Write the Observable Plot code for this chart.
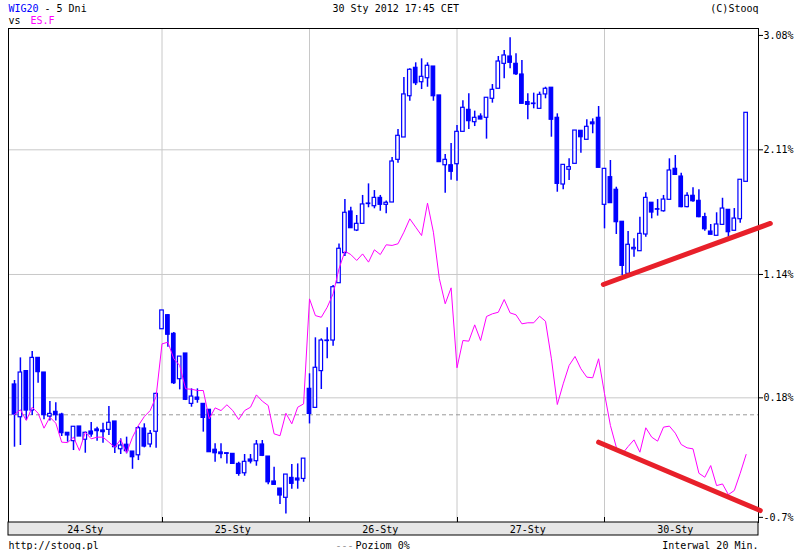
<!DOCTYPE html>
<html><head><meta charset="utf-8">
<script src="https://cdn.jsdelivr.net/npm/d3@7"></script>
<script src="https://cdn.jsdelivr.net/npm/@observablehq/plot@0.6"></script>
<style>body{margin:0;background:#fff;} #chart svg{display:block}</style>
</head><body><div id="chart"></div>
<script>
// WIG20, 20-minute candles, % change (index 0..124, 25 per session)
const openV = [0.284,0.029,0.388,0.081,0.491,0.377,0.034,0.071,0.050,-0.092,
-0.157,-0.043,-0.146,-0.082,-0.066,-0.074,-0.069,-0.004,-0.220,-0.185,
-0.238,-0.267,-0.059,-0.183,-0.084,0.714,0.823,0.678,0.325,0.525,
0.133,0.182,0.133,0.087,-0.224,-0.245,-0.251,-0.256,-0.334,-0.407,
-0.300,-0.313,-0.183,-0.277,-0.471,-0.526,-0.598,-0.443,-0.448,-0.451,
0.250,0.102,0.388,0.626,0.626,1.072,1.306,1.630,1.482,1.534,
1.692,1.671,1.736,1.682,1.700,2.032,2.206,2.527,2.748,2.636,
2.667,2.758,2.533,1.990,1.990,1.998,2.250,2.421,2.325,2.369,
2.359,2.507,2.585,2.779,2.836,2.779,2.696,2.481,2.470,2.429,
2.541,2.593,2.359,1.840,1.955,2.001,2.258,2.188,2.323,2.359,
1.682,1.897,1.799,1.550,1.145,1.336,1.321,1.451,1.698,1.648,
1.632,1.721,1.962,1.902,1.664,1.752,1.713,1.586,1.474,1.441,
1.526,1.643,1.480,1.570,1.861];
const highV = [0.315,0.491,0.393,0.540,0.491,0.377,0.151,0.141,0.060,-0.092,
-0.045,-0.043,-0.087,-0.012,-0.048,-0.017,0.112,-0.004,-0.139,-0.126,
-0.238,-0.043,-0.022,-0.074,0.216,0.860,0.829,0.688,0.501,0.525,
0.250,0.250,0.133,0.087,-0.178,-0.178,-0.251,-0.256,-0.321,-0.261,
-0.261,-0.152,-0.152,-0.277,-0.360,-0.526,-0.417,-0.339,-0.334,-0.293,
0.367,0.647,0.639,0.725,1.054,1.378,1.723,1.664,1.599,1.755,
1.845,1.793,1.755,1.711,2.050,2.268,2.673,2.741,2.787,2.818,
2.787,2.758,2.533,2.074,2.159,2.299,2.491,2.546,2.411,2.390,
2.515,2.618,2.836,2.883,2.982,2.857,2.805,2.546,2.551,2.559,
2.597,2.593,2.390,1.993,2.040,2.260,2.258,2.344,2.351,2.447,
1.962,2.027,1.819,1.550,1.474,1.417,1.586,1.775,1.698,1.723,
1.755,2.040,2.066,1.928,1.775,1.814,1.799,1.617,1.529,1.620,
1.733,1.643,1.653,1.877,2.398];
const lowV = [-0.204,-0.191,0.004,0.042,0.294,0.009,-0.001,-0.001,-0.121,-0.165,
-0.230,-0.121,-0.251,-0.126,-0.157,-0.173,-0.113,-0.253,-0.261,-0.256,
-0.376,-0.308,-0.209,-0.209,-0.212,0.714,0.574,0.284,0.242,0.159,
0.107,0.138,-0.087,-0.243,-0.321,-0.293,-0.334,-0.334,-0.430,-0.430,
-0.334,-0.352,-0.277,-0.497,-0.497,-0.650,-0.723,-0.531,-0.531,-0.477,
-0.023,0.102,0.245,0.484,0.582,1.072,1.280,1.500,1.474,1.534,
1.659,1.651,1.632,1.612,1.700,2.006,2.206,2.488,2.610,2.579,
2.597,2.488,2.014,1.772,1.874,1.866,2.250,2.268,2.291,2.344,
2.193,2.473,2.585,2.663,2.741,2.688,2.468,2.344,2.429,2.429,
2.507,2.208,1.780,1.799,1.871,2.001,2.084,2.188,2.235,1.970,
1.495,1.695,1.451,1.132,1.145,1.274,1.321,1.430,1.573,1.594,
1.625,1.721,1.915,1.659,1.659,1.702,1.581,1.477,1.449,1.441,
1.526,1.430,1.480,1.539,1.861];
const closeV = [0.050,0.377,0.081,0.491,0.380,0.045,0.055,0.045,-0.095,-0.113,
-0.045,-0.121,-0.092,-0.105,-0.079,-0.087,-0.014,-0.204,-0.191,-0.235,
-0.282,-0.056,-0.199,-0.100,0.211,0.860,0.671,0.294,0.501,0.165,
0.190,0.165,0.024,-0.243,-0.251,-0.258,-0.256,-0.334,-0.412,-0.318,
-0.316,-0.183,-0.271,-0.477,-0.497,-0.580,-0.417,-0.489,-0.463,-0.293,
0.055,0.414,0.626,0.622,1.041,1.340,1.620,1.500,1.534,1.685,
1.688,1.736,1.682,1.698,2.019,2.219,2.541,2.733,2.628,2.678,
2.764,2.527,2.014,2.032,1.939,2.250,2.437,2.333,2.359,2.346,
2.515,2.577,2.797,2.844,2.787,2.698,2.468,2.460,2.466,2.538,
2.585,2.344,1.845,1.993,1.975,2.260,2.208,2.289,2.309,1.970,
1.962,1.695,1.547,1.207,1.371,1.347,1.456,1.736,1.622,1.644,
1.723,1.949,1.915,1.664,1.752,1.710,1.586,1.492,1.449,1.529,
1.653,1.469,1.575,1.877,2.398];
// ES.F comparison line, % change
const esfV = [0.050,0.087,0.004,0.107,0.060,-0.056,0.029,-0.017,-0.165,-0.168,
-0.126,-0.230,-0.087,-0.139,-0.126,-0.126,-0.165,-0.204,-0.144,-0.248,
-0.126,-0.035,0.034,0.081,0.190,0.600,0.613,0.484,0.432,0.250,
0.247,0.237,0.237,0.017,0.102,0.081,0.126,0.081,0.011,0.081,
0.107,0.203,0.154,0.120,-0.100,-0.115,0.060,-0.022,0.107,0.133,
0.950,0.820,0.807,0.885,0.989,1.184,1.321,1.295,1.249,1.300,
1.236,1.332,1.295,1.371,1.366,1.379,1.469,1.573,1.508,1.443,
1.695,1.469,1.109,0.912,1.036,0.414,0.626,0.621,0.748,0.626,
0.813,0.834,0.846,0.945,0.841,0.826,0.756,0.764,0.764,0.815,
0.776,0.484,0.128,0.289,0.432,0.502,0.406,0.341,0.336,0.484,
0.213,-0.035,-0.204,-0.256,-0.199,-0.147,-0.243,-0.053,-0.126,-0.157,
-0.048,-0.040,-0.095,-0.183,-0.209,-0.217,-0.407,-0.438,-0.347,-0.503,
-0.490,-0.573,-0.541,-0.407,-0.261];
// sessions
const dayStarts = [25, 50, 75, 100];
const dayCenters = [12, 37, 62, 87, 112];
const dayLabels = ["24-Sty", "25-Sty", "26-Sty", "27-Sty", "30-Sty"];
// y axis
const yTickVals = [3.0, 2.11, 1.14, 0.18, -0.75];
const yTickLabels = ["3.08%", "2.11%", "1.14%", "0.18%", "-0.7%"];
const yGridVals = [2.11, 1.14, 0.18];
const zeroLevel = 0.048;
// hand-drawn trend lines (index, %)
const trendUpperI = [99.8, 128.1], trendUpperV = [1.062, 1.537];
const trendLowerI = [99.0, 126.4], trendLowerV = [-0.165, -0.697];

const candles = openV.map((o, i) => ({i, open: o, high: highV[i], low: lowV[i], close: closeV[i]}));
const ups = candles.filter(d => d.close >= d.open);
const downs = candles.filter(d => d.close < d.open);
const esf = esfV.map((v, i) => ({i, v}));
const trendU = trendUpperI.map((i, k) => ({i, v: trendUpperV[k]}));
const trendL = trendLowerI.map((i, k) => ({i, v: trendLowerV[k]}));
const yLab = new Map(yTickVals.map((v, k) => [v, yTickLabels[k]]));
const dLab = new Map(dayCenters.map((v, k) => [v, dayLabels[k]]));

const BLUE = "#0000ff", MAG = "#ff00ff", RED = "#e8202a";

const strip = (index, scales, values, dims) => {
  const g = d3.create("svg:g");
  const x0 = dims.marginLeft, x1 = dims.width - dims.marginRight, yb = dims.height - dims.marginBottom;
  g.append("rect").attr("x", x0).attr("y", yb).attr("width", x1 - x0).attr("height", 13)
    .attr("fill", "#e6e6e6").attr("stroke", "#000");
  for (const s of dayStarts) {
    const px = Math.round(scales.x(s)) + 0.5;
    g.append("line").attr("x1", px).attr("x2", px).attr("y1", yb - 5).attr("y2", yb).attr("stroke", "#000");
  }
  return g.node();
};

const T = {lineAnchor: "middle", fontSize: 10};

const chart = Plot.plot({
  width: 800, height: 550,
  marginLeft: 8, marginRight: 42, marginTop: 28, marginBottom: 28,
  style: {fontFamily: "'DejaVu Sans Mono', monospace", fontSize: "10px", background: "#fff", color: "#000"},
  x: {domain: [-1.017, 126.1], axis: null, label: null},
  y: {domain: [-0.790, 3.054], axis: null, label: null},
  marks: [
    Plot.gridX(dayStarts, {stroke: "#c8c8c8", strokeOpacity: 1}),
    Plot.gridY(yGridVals, {stroke: "#c8c8c8", strokeOpacity: 1}),
    Plot.ruleY([zeroLevel], {stroke: "#999", strokeDasharray: "4,3"}),
    Plot.ruleX(candles, {x: "i", y1: "low", y2: "high", stroke: BLUE, strokeWidth: 1.5}),
    Plot.rect(ups, {x1: d => d.i - 0.3, x2: d => d.i + 0.3, y1: "open", y2: "close", fill: "#fff", stroke: BLUE, strokeWidth: 1.2}),
    Plot.rect(downs, {x1: d => d.i - 0.3, x2: d => d.i + 0.3, y1: "open", y2: "close", fill: BLUE, stroke: BLUE, strokeWidth: 1.2}),
    Plot.line(esf, {x: "i", y: "v", stroke: MAG, strokeWidth: 1}),
    Plot.frame({stroke: "#000"}),
    Plot.axisY(yTickVals, {anchor: "right", label: null, tickSize: 4, tickPadding: 1, tickFormat: d => yLab.get(d), fill: "#000", stroke: "#000"}),
    strip,
    Plot.axisX(dayCenters, {anchor: "bottom", label: null, tickSize: 0, tickPadding: 3, tickFormat: d => dLab.get(d), fill: "#000"}),
    Plot.line(trendU, {x: "i", y: "v", stroke: RED, strokeWidth: 5, strokeLinecap: "round"}),
    Plot.line(trendL, {x: "i", y: "v", stroke: RED, strokeWidth: 5, strokeLinecap: "round"}),
    // header
    Plot.text(["WIG20"], {...T, frameAnchor: "top-left", dy: -20, textAnchor: "start", fill: BLUE}),
    Plot.text([" - 5 Dni"], {...T, frameAnchor: "top-left", dx: 30, dy: -20, textAnchor: "start", fill: "#000"}),
    Plot.text(["vs"], {...T, frameAnchor: "top-left", dy: -8, textAnchor: "start", fill: "#000"}),
    Plot.text(["ES.F"], {...T, frameAnchor: "top-left", dx: 22, dy: -8, textAnchor: "start", fill: MAG}),
    Plot.text(["30 Sty 2012 17:45 CET"], {...T, frameAnchor: "top-left", dx: 324, dy: -20, textAnchor: "start", fill: "#000"}),
    Plot.text(["(C)Stooq"], {...T, frameAnchor: "top-right", dy: -20, textAnchor: "end", fill: "#000"}),
    // footer
    Plot.text(["http://stooq.pl"], {...T, frameAnchor: "bottom-left", dy: 23, textAnchor: "start", fill: "#000"}),
    Plot.text(["---"], {...T, frameAnchor: "bottom-left", dx: 327, dy: 23, textAnchor: "start", fill: "#999"}),
    Plot.text(["Poziom 0%"], {...T, frameAnchor: "bottom-left", dx: 347, dy: 23, textAnchor: "start", fill: "#000"}),
    Plot.text(["Interwal 20 Min."], {...T, frameAnchor: "bottom-right", dy: 23, textAnchor: "end", fill: "#000"})
  ]
});
document.getElementById("chart").appendChild(chart);
</script>
</body></html>
